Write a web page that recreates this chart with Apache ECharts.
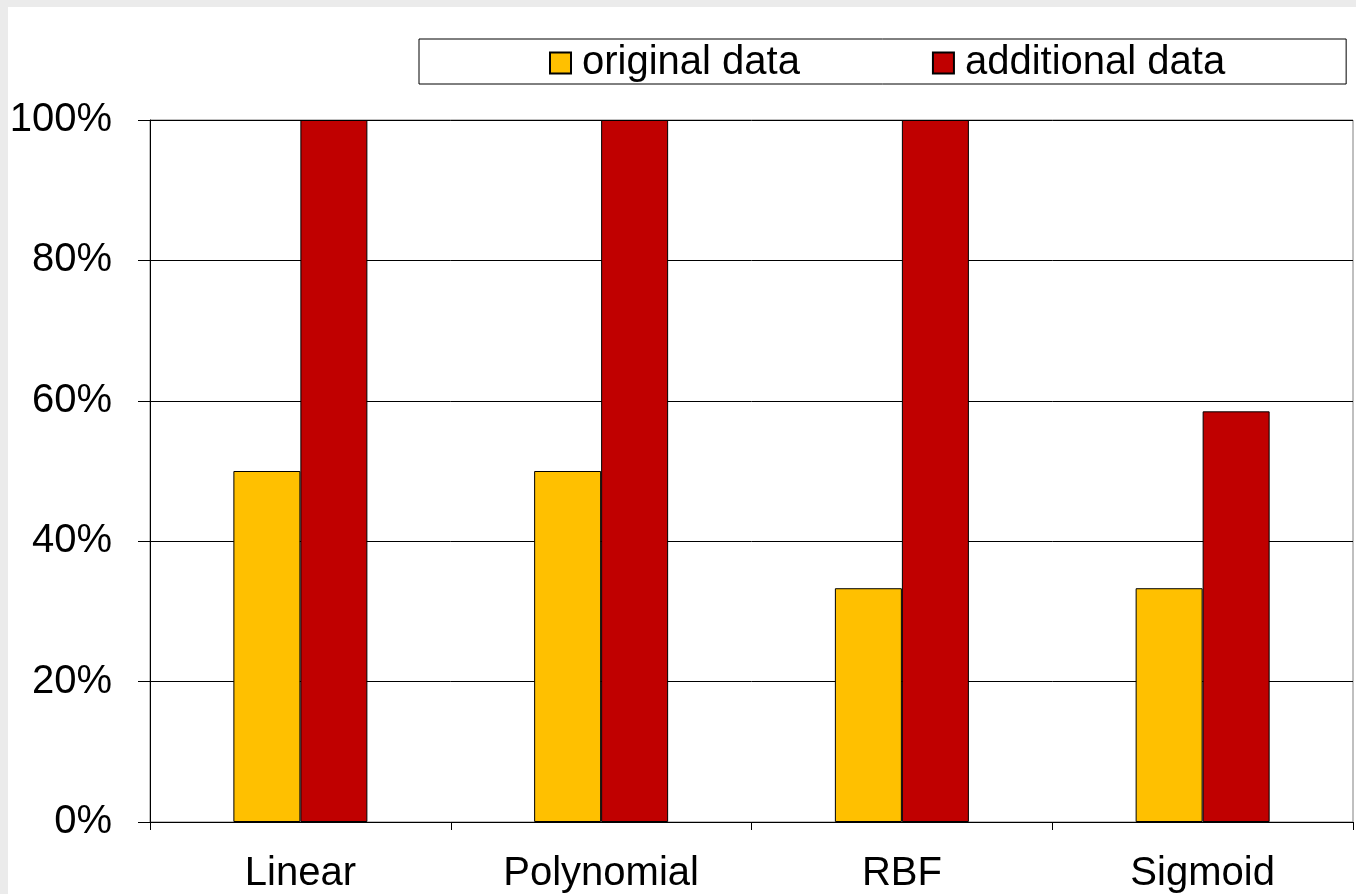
<!DOCTYPE html>
<html>
<head>
<meta charset="utf-8">
<script src="https://cdn.jsdelivr.net/npm/echarts@6/dist/echarts.min.js"></script>
<style>
html,body{margin:0;padding:0;background:#ebebeb;}
#c{width:1356px;height:894px;}
</style>
</head>
<body>
<div id="c"></div>
<script>
const categories = ['Linear', 'Polynomial', 'RBF', 'Sigmoid'];
const originalData = [50, 50, 33.3, 33.3];
const additionalData = [100, 100, 100, 58.5];
const seriesNames = ['original data', 'additional data'];

const chart = echarts.init(document.getElementById('c'));
const font = 'Liberation Sans, Arial, sans-serif';
chart.setOption({
  backgroundColor: '#ebebeb',
  animation: false,
  graphic: [{
    type: 'rect', z: -10, silent: true,
    shape: {x: 8, y: 7, width: 1348, height: 887},
    style: {fill: '#ffffff'}
  }],
  legend: {
    left: 419, top: 39,
    padding: [4, 121, 1, 130],
    backgroundColor: '#ffffff',
    borderColor: '#000000',
    borderWidth: 1,
    borderRadius: 0,
    itemWidth: 21, itemHeight: 21,
    itemGap: 132,
    icon: 'rect',
    textStyle: {fontFamily: font, fontSize: 40, color: '#000', padding: [0, 0, 0, 6]},
    data: seriesNames
  },
  grid: {
    left: 150, right: 3, top: 120, bottom: 72,
    show: true, borderColor: '#808080', borderWidth: 1, backgroundColor: 'transparent'
  },
  xAxis: {
    type: 'category',
    data: categories,
    axisLine: {lineStyle: {color: '#000', width: 1}},
    axisTick: {show: true, length: 8, interval: 0, lineStyle: {color: '#000'}},
    axisLabel: {fontFamily: font, fontSize: 40, color: '#000', margin: 32}
  },
  yAxis: {
    type: 'value', min: 0, max: 100, interval: 20,
    axisLine: {show: true, lineStyle: {color: '#000', width: 1}},
    axisTick: {show: true, length: 12, lineStyle: {color: '#000'}},
    axisLabel: {formatter: '{value}%', fontFamily: font, fontSize: 40, color: '#000', margin: 38},
    splitLine: {lineStyle: {color: '#000', width: 1}}
  },
  series: [
    {
      name: seriesNames[0], type: 'bar', data: originalData,
      barWidth: 67, barGap: '0%',
      itemStyle: {color: '#FFC000', borderColor: '#000', borderWidth: 1}
    },
    {
      name: seriesNames[1], type: 'bar', data: additionalData,
      barWidth: 67, barGap: '0%',
      itemStyle: {color: '#C00000', borderColor: '#000', borderWidth: 1}
    }
  ]
});
</script>
</body>
</html>
